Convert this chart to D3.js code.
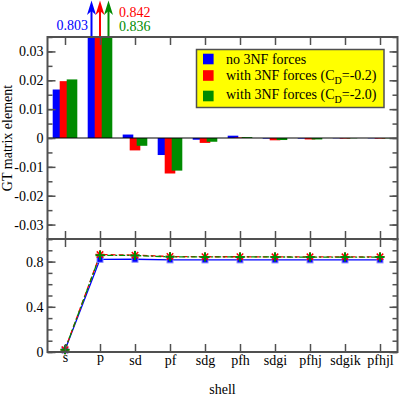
<!DOCTYPE html>
<html>
<head>
<meta charset="utf-8">
<script src="https://cdn.jsdelivr.net/npm/d3@7"></script>
<style>
body { margin: 0; background: #fff; }
svg text { font-family: "Liberation Serif", "Times New Roman", serif !important; }
</style>
</head>
<body>
<div class="container"></div>
<script>
// shells on the x axis
var shells = ["s", "p", "sd", "pf", "sdg", "pfh", "sdgi", "pfhj", "sdgik", "pfhjl"];

// top panel: GT matrix element per shell
var gtNo3NF = [0.0168, 0.803, 0.0012, -0.0059, -0.0006, 0.0008, -0.0002, -0.0002, -0.0001, -0.0001];
var gtCd02  = [0.0197, 0.842, -0.0043, -0.0123, -0.0017, 0.0002, -0.0008, -0.0005, -0.0002, -0.0002];
var gtCd20  = [0.0203, 0.836, -0.0027, -0.0113, -0.0013, 0.0003, -0.0007, -0.0005, -0.0001, -0.0001];

// bottom panel: running total
var sumNo3NF = [0.017, 0.820, 0.821, 0.815, 0.815, 0.815, 0.815, 0.815, 0.815, 0.815];
var sumCd02  = [0.020, 0.862, 0.857, 0.845, 0.843, 0.843, 0.842, 0.842, 0.842, 0.842];
var sumCd20  = [0.020, 0.856, 0.854, 0.842, 0.841, 0.841, 0.841, 0.840, 0.840, 0.840];

var seriesNames = ["no 3NF forces", "with 3NF forces (C", "with 3NF forces (C"];
var seriesSub = ["", "D", "D"];
var seriesTail = ["", "=-0.2)", "=-2.0)"];
var seriesColors = ["#0000ff", "#ff0000", "#008b00"];

var topTicks = [-0.03, -0.02, -0.01, 0, 0.01, 0.02, 0.03];
var topMinor = d3.range(-0.035, 0.0351, 0.005);
var botTicks = [0, 0.4, 0.8];
var botMinor = d3.range(0, 1.001, 0.1);

var W = 399, H = 398;
var frameColor = "#505050";
var serif = "'Liberation Serif', 'Times New Roman', serif";

var svg = d3.select(".container")
	.append("svg")
	.attr("width", W)
	.attr("height", H)
	.style("font-family", serif);

var x = d3.scaleLinear().domain([-0.5, 9.5]).range([47.5, 397.5]);
var yTop = d3.scaleLinear().domain([-0.035, 0.035]).range([239, 37]);
var yBot = d3.scaleLinear().domain([0, 1]).range([352, 239]);
var idx = d3.range(shells.length);

function fmtTop(d) {
	if (Math.abs(d) < 1e-9) return "0";
	return (d < 0 ? "-" : "") + Math.abs(d).toFixed(2);
}
function fmtBot(d) {
	if (d === 0) return "0";
	return d.toFixed(1);
}

// draw one axis on a side, strip its domain line and style ticks
function addAxis(axis, tx, ty) {
	var g = svg.append("g")
		.attr("transform", "translate(" + tx + "," + ty + ")")
		.call(axis)
		.attr("font-family", null)
		.style("font-family", serif);
	g.select(".domain").remove();
	g.selectAll(".tick line").attr("stroke", frameColor).attr("stroke-width", 1.5);
	g.selectAll("text").attr("font-size", 14).attr("fill", "#000")
		.style("font-family", serif);
	return g;
}

// ---------- top panel ----------
svg.append("clipPath").attr("id", "topclip")
	.append("rect")
	.attr("x", x(-0.5)).attr("y", yTop(0.035))
	.attr("width", x(9.5) - x(-0.5)).attr("height", yTop(-0.035) - yTop(0.035));

var barW = 10.6, barStep = 7;
var topSeries = [gtNo3NF, gtCd02, gtCd20];
var barsG = svg.append("g").attr("clip-path", "url(#topclip)");
topSeries.forEach(function(vals, s) {
	barsG.selectAll(".bar" + s)
		.data(idx)
		.enter()
		.append("rect")
		.attr("class", "bar" + s)
		.attr("x", function(i) { return x(i) + (s - 1) * barStep - barW / 2; })
		.attr("y", function(i) { return yTop(Math.max(vals[i], 0)); })
		.attr("width", barW)
		.attr("height", function(i) { return Math.abs(yTop(vals[i]) - yTop(0)); })
		.attr("fill", seriesColors[s]);
});

// zero line
svg.append("line")
	.attr("x1", x(-0.5)).attr("x2", x(9.5))
	.attr("y1", yTop(0)).attr("y2", yTop(0))
	.attr("stroke", "#000").attr("stroke-width", 1);

// arrows for the off-scale p bars
var arrowStep = 8.5;
topSeries.forEach(function(vals, s) {
	var i = 1;
	if (vals[i] <= 0.035) return;
	var ax = x(i) + (s - 1) * arrowStep;
	svg.append("line")
		.attr("x1", ax).attr("x2", ax)
		.attr("y1", yTop(0.035) + 1).attr("y2", 10)
		.attr("stroke", seriesColors[s]).attr("stroke-width", 2);
	svg.append("path")
		.attr("d", "M" + ax + ",0.5 L" + (ax - 4.5) + ",15 L" + ax + ",11 L" + (ax + 4.5) + ",15 Z")
		.attr("fill", seriesColors[s]);
});
var arrowLabelPos = [[88, 30, "end"], [119, 16.5, "start"], [119, 30.5, "start"]];
topSeries.forEach(function(vals, s) {
	svg.append("text")
		.attr("x", arrowLabelPos[s][0]).attr("y", arrowLabelPos[s][1])
		.attr("text-anchor", arrowLabelPos[s][2])
		.attr("font-size", 14)
		.attr("fill", seriesColors[s])
		.text(vals[1].toFixed(3));
});

// top panel ticks
addAxis(d3.axisLeft(yTop).tickValues(topMinor).tickSize(-5).tickFormat(""), x(-0.5), 0);
addAxis(d3.axisLeft(yTop).tickValues(topTicks).tickSize(-8).tickPadding(4).tickFormat(fmtTop), x(-0.5), 0);
addAxis(d3.axisRight(yTop).tickValues(topMinor).tickSize(-5).tickFormat(""), x(9.5), 0);
addAxis(d3.axisRight(yTop).tickValues(topTicks).tickSize(-8).tickFormat(""), x(9.5), 0);
addAxis(d3.axisTop(x).tickValues(idx).tickSize(-8).tickFormat(""), 0, yTop(0.035));
addAxis(d3.axisBottom(x).tickValues(idx).tickSize(-8).tickFormat(""), 0, yTop(-0.035));

svg.append("rect")
	.attr("x", x(-0.5)).attr("y", yTop(0.035))
	.attr("width", x(9.5) - x(-0.5)).attr("height", yTop(-0.035) - yTop(0.035))
	.attr("fill", "none").attr("stroke", frameColor).attr("stroke-width", 2);

svg.append("text")
	.attr("transform", "translate(12," + ((yTop(0.035) + yTop(-0.035)) / 2) + ") rotate(-90)")
	.attr("text-anchor", "middle")
	.attr("font-size", 14)
	.text("GT matrix element");

// legend
var leg = svg.append("g");
leg.append("rect")
	.attr("x", 196.5).attr("y", 49.5).attr("width", 187.5).attr("height", 58)
	.attr("fill", "#ffff00").attr("stroke", frameColor).attr("stroke-width", 1.5);
var legSq = [59, 75.5, 96];
var legBase = [64, 79.5, 98.5];
seriesNames.forEach(function(name, s) {
	leg.append("rect")
		.attr("x", 203).attr("y", legSq[s] - 5.3)
		.attr("width", 10.6).attr("height", 10.6)
		.attr("fill", seriesColors[s]);
	var t = leg.append("text")
		.attr("x", 226).attr("y", legBase[s])
		.attr("font-size", 14);
	t.append("tspan").text(name);
	if (seriesSub[s]) {
		t.append("tspan").attr("font-size", 10).attr("dy", 4).text(seriesSub[s]);
		t.append("tspan").attr("font-size", 14).attr("dy", -4).text(seriesTail[s]);
	}
});

// ---------- bottom panel ----------
var botSeries = [sumNo3NF, sumCd02, sumCd20];
var dashes = [null, "5,3", "6,2,2,2"];
var line = d3.line()
	.x(function(d, i) { return x(i); })
	.y(function(d) { return yBot(d); });

botSeries.forEach(function(vals, s) {
	svg.append("path")
		.datum(vals)
		.attr("d", line)
		.attr("fill", "none")
		.attr("stroke", seriesColors[s])
		.attr("stroke-width", 1.3)
		.attr("stroke-dasharray", dashes[s]);
});

// markers: blue squares, red stars, green pluses
svg.selectAll(".msq")
	.data(sumNo3NF)
	.enter()
	.append("rect")
	.attr("class", "msq")
	.attr("x", function(d, i) { return x(i) - 3; })
	.attr("y", function(d) { return yBot(d) - 3; })
	.attr("width", 6).attr("height", 6)
	.attr("fill", "#0000ff")
	.attr("stroke", "#8c8cff").attr("stroke-width", 1);

function starPath(cx, cy, r) {
	var k = r * 0.72;
	return "M" + (cx - r) + "," + cy + "H" + (cx + r) +
		"M" + cx + "," + (cy - r) + "V" + (cy + r) +
		"M" + (cx - k) + "," + (cy - k) + "L" + (cx + k) + "," + (cy + k) +
		"M" + (cx - k) + "," + (cy + k) + "L" + (cx + k) + "," + (cy - k);
}
function plusPath(cx, cy, r) {
	return "M" + (cx - r) + "," + cy + "H" + (cx + r) +
		"M" + cx + "," + (cy - r) + "V" + (cy + r);
}
svg.selectAll(".mstar")
	.data(sumCd02)
	.enter()
	.append("path")
	.attr("class", "mstar")
	.attr("d", function(d, i) { return starPath(x(i), yBot(d), 4.5); })
	.attr("stroke", "#ff0000").attr("stroke-width", 1.5).attr("fill", "none");
svg.selectAll(".mplus")
	.data(sumCd20)
	.enter()
	.append("path")
	.attr("class", "mplus")
	.attr("d", function(d, i) { return plusPath(x(i), yBot(d), 4.5); })
	.attr("stroke", "#008b00").attr("stroke-width", 2).attr("fill", "none");

addAxis(d3.axisLeft(yBot).tickValues(botMinor).tickSize(-5).tickFormat(""), x(-0.5), 0);
addAxis(d3.axisLeft(yBot).tickValues(botTicks).tickSize(-8).tickPadding(4).tickFormat(fmtBot), x(-0.5), 0);
addAxis(d3.axisRight(yBot).tickValues(botMinor).tickSize(-5).tickFormat(""), x(9.5), 0);
addAxis(d3.axisRight(yBot).tickValues(botTicks).tickSize(-8).tickFormat(""), x(9.5), 0);
addAxis(d3.axisTop(x).tickValues(idx).tickSize(-8).tickFormat(""), 0, yBot(1));
var xg = addAxis(d3.axisBottom(x).tickValues(idx).tickSize(-8)
	.tickFormat(function(i) { return shells[i]; }), 0, yBot(0));
// labels sit by their top edge: ones with tall letters drop a little
xg.selectAll("text")
	.attr("dy", null)
	.attr("y", function(i) { return /[bdfhklt]/.test(shells[i]) ? 13 : 10; });

svg.append("rect")
	.attr("x", x(-0.5)).attr("y", yBot(1))
	.attr("width", x(9.5) - x(-0.5)).attr("height", yBot(0) - yBot(1))
	.attr("fill", "none").attr("stroke", frameColor).attr("stroke-width", 2);

svg.append("text")
	.attr("x", (x(-0.5) + x(9.5)) / 2).attr("y", 394)
	.attr("text-anchor", "middle")
	.attr("font-size", 14)
	.text("shell");
</script>
</body>
</html>
